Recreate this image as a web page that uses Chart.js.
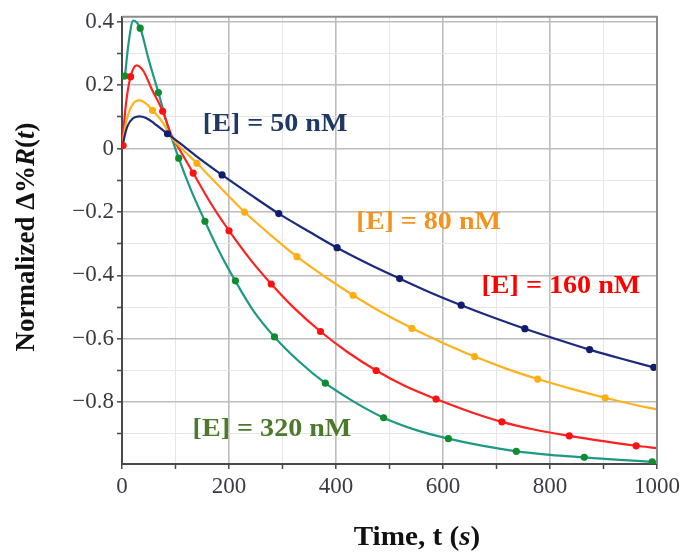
<!DOCTYPE html>
<html>
<head>
<meta charset="utf-8">
<script src="https://cdn.jsdelivr.net/npm/chart.js@4"></script>
<style>
  html, body { margin: 0; padding: 0; background: #fff; }
  #chart { display: block; }
</style>
</head>
<body>
<canvas id="chart" width="684" height="553"></canvas>
<script>
// fitted curves, [t, value]
const fit50 = [[0,0],[5,0.04],[10,0.07],[20,0.095],[32,0.102],[45,0.097],[60,0.08],[85,0.047],[110,0.015],[140,-0.025],[187,-0.083],[240,-0.145],[293,-0.205],[350,-0.262],[402,-0.3125],[460,-0.363],[519,-0.41],[575,-0.453],[634,-0.494],[693,-0.532],[753,-0.568],[814,-0.602],[874,-0.634],[934,-0.663],[1000,-0.693]];
const fit80 = [[0,0],[5,0.06],[10,0.1],[20,0.14],[32,0.152],[45,0.142],[57,0.121],[75,0.085],[93,0.034],[115,-0.005],[140,-0.046],[185,-0.125],[229,-0.2],[280,-0.276],[327,-0.341],[380,-0.405],[432,-0.4625],[487,-0.518],[542,-0.567],[600,-0.613],[659,-0.656],[718,-0.694],[777,-0.727],[840,-0.758],[903,-0.786],[950,-0.805],[1000,-0.823]];
const fit160 = [[0,0.01],[8,0.15],[16,0.227],[27,0.263],[40,0.245],[55,0.19],[76,0.118],[93,0.04],[110,-0.01],[133,-0.077],[165,-0.17],[200,-0.259],[240,-0.35],[279,-0.427],[320,-0.5],[371,-0.577],[420,-0.64],[475,-0.7],[530,-0.75],[587,-0.79],[650,-0.83],[710,-0.862],[770,-0.886],[836,-0.906],[900,-0.923],[961,-0.9375],[1000,-0.945]];
const fit320 = [[5.6,0.229],[12,0.33],[21,0.404],[34,0.38],[50,0.28],[68,0.177],[85,0.075],[106,-0.03],[130,-0.135],[155,-0.229],[182,-0.325],[212,-0.418],[245,-0.51],[285,-0.594],[330,-0.67],[380,-0.74],[430,-0.795],[489,-0.849],[550,-0.888],[610,-0.915],[675,-0.938],[737,-0.955],[800,-0.966],[864,-0.974],[930,-0.982],[991,-0.988],[1000,-0.989]];

// measured points
const pts50 = [[85,0.047],[187,-0.083],[293,-0.205],[402,-0.3125],[519,-0.41],[634,-0.494],[753,-0.568],[874,-0.634],[994,-0.69]];
const pts80 = [[57,0.121],[140,-0.046],[229,-0.2],[327,-0.341],[432,-0.4625],[542,-0.567],[659,-0.656],[777,-0.727],[903,-0.786]];
const pts160 = [[2,0.01],[16,0.227],[76,0.118],[133,-0.077],[200,-0.259],[279,-0.427],[371,-0.577],[475,-0.7],[587,-0.79],[710,-0.862],[836,-0.906],[961,-0.9375]];
const pts320 = [[5.6,0.229],[34,0.38],[68,0.177],[106,-0.03],[155,-0.229],[212,-0.417],[285,-0.594],[380,-0.74],[489,-0.849],[610,-0.915],[737,-0.955],[864,-0.974],[991,-0.988]];

const seriesLabels = ["[E] = 50 nM", "[E] = 80 nM", "[E] = 160 nM", "[E] = 320 nM"];
const xTicks = [0,100,200,300,400,500,600,700,800,900,1000];
const yTicks = [-0.9,-0.8,-0.7,-0.6,-0.5,-0.4,-0.3,-0.2,-0.1,0,0.1,0.2,0.3,0.4];
const xMajor = [0,200,400,600,800,1000];
const yMajor = [-0.8,-0.6,-0.4,-0.2,0,0.2,0.4];

const lineColors = ["#1b2a7e", "#ffb21c", "#ff2222", "#1e9a84"];
const dotColors = ["#101c6c", "#ffae12", "#ff1010", "#0e8c2e"];
const textColors = ["#1f3864", "#f5921e", "#ff0000", "#4b7a2c"];
// where each label starts, in data units [t, value]
const labelAnchors = [[151, 0.077], [438, -0.231], [672, -0.434], [132, -0.887]];

const toXY = arr => arr.map(p => ({ x: p[0], y: p[1] }));
const fits = [fit50, fit80, fit160, fit320];
const pts = [pts50, pts80, pts160, pts320];

const datasets = [];
pts.forEach((p, i) => {
    datasets.push({
        type: "scatter",
        data: toXY(p),
        showLine: false,
        pointRadius: 3.6,
        pointBackgroundColor: dotColors[i],
        pointBorderColor: dotColors[i],
        pointBorderWidth: 0
    });
});
fits.forEach((f, i) => {
    datasets.push({
        type: "line",
        data: toXY(f),
        borderColor: lineColors[i],
        borderWidth: 2.2,
        pointRadius: 0,
        fill: false,
        cubicInterpolationMode: "monotone"
    });
});

function fmtY(v) {
    if (v === 0) return "0";
    return (v < 0 ? "\u2212" : "") + Math.abs(v).toFixed(1);
}

const textPlugin = {
    id: "texts",
    afterDatasetsDraw(chart) {
        const ctx = chart.ctx;
        const xs = chart.scales.x, ys = chart.scales.y;
        const area = chart.chartArea;

        // top and right frame
        ctx.save();
        ctx.strokeStyle = "#8c8c8c";
        ctx.lineWidth = 2;
        ctx.beginPath();
        ctx.moveTo(area.left, area.top);
        ctx.lineTo(area.right, area.top);
        ctx.lineTo(area.right, area.bottom);
        ctx.stroke();
        ctx.restore();

        seriesLabels.forEach((label, i) => {
            const px = xs.getPixelForValue(labelAnchors[i][0]);
            const py = ys.getPixelForValue(labelAnchors[i][1]);
            ctx.save();
            ctx.translate(px, py);
            ctx.scale(1.08, 1);
            ctx.font = "bold 26px 'Liberation Serif'";
            ctx.fillStyle = textColors[i];
            ctx.textBaseline = "middle";
            ctx.textAlign = "left";
            ctx.fillText(label, 0, 0);
            ctx.restore();
        });
    },
    afterDraw(chart) {
        const ctx = chart.ctx;
        const b = "bold 27px 'Liberation Serif'";
        const bi = "italic bold 27px 'Liberation Serif'";
        const drawRich = (segs, cx, cy) => {
            let total = 0;
            segs.forEach(s => { ctx.font = s[1]; total += ctx.measureText(s[0]).width; });
            let x = cx - total / 2;
            segs.forEach(s => {
                ctx.font = s[1];
                ctx.fillText(s[0], x, cy);
                x += ctx.measureText(s[0]).width;
            });
        };
        ctx.save();
        ctx.fillStyle = "#111";
        ctx.textBaseline = "middle";
        ctx.textAlign = "left";
        ctx.translate(27, 237);
        ctx.rotate(-Math.PI / 2);
        drawRich([["Normalized \u0394%", b], ["R", bi], ["(", b], ["t", bi], [")", b]], 0, 0);
        ctx.restore();

        ctx.save();
        ctx.fillStyle = "#111";
        ctx.textBaseline = "middle";
        ctx.textAlign = "left";
        ctx.translate(417, 538);
        ctx.scale(1.08, 1);
        drawRich([["Time, t (", b], ["s", bi], [")", b]], 0, 0);
        ctx.restore();
    }
};

new Chart(document.getElementById("chart"), {
    type: "line",
    data: { datasets: datasets },
    options: {
        responsive: false,
        animation: false,
        devicePixelRatio: 1,
        layout: { padding: { left: 0, right: 26, top: 13, bottom: 0 } },
        plugins: { legend: { display: false }, tooltip: { enabled: false } },
        scales: {
            x: {
                type: "linear",
                min: 0,
                max: 1000,
                afterBuildTicks: s => { s.ticks = xTicks.map(v => ({ value: v })); },
                afterFit: s => { s.height = 89; },
                border: { color: "#4a4a4a", width: 2 },
                grid: {
                    color: c => xMajor.includes(c.tick.value) ? "#bdbdbd" : "#e6e6e6",
                    lineWidth: c => xMajor.includes(c.tick.value) ? 1.6 : 1,
                    tickColor: "#4a4a4a",
                    tickLength: 5,
                    tickWidth: 1.5
                },
                ticks: {
                    autoSkip: false,
                    maxRotation: 0,
                    padding: 4,
                    color: "#3a3a44",
                    font: { family: "'Liberation Serif'", size: 23 },
                    callback: v => xMajor.includes(v) ? String(v) : ""
                }
            },
            y: {
                type: "linear",
                min: -0.995,
                max: 0.416,
                afterBuildTicks: s => { s.ticks = yTicks.map(v => ({ value: v })); },
                afterFit: s => { s.width = 122; },
                border: { color: "#4a4a4a", width: 2 },
                grid: {
                    color: c => yMajor.includes(c.tick.value) ? "#bdbdbd" : "#e6e6e6",
                    lineWidth: c => yMajor.includes(c.tick.value) ? 1.6 : 1,
                    tickColor: "#4a4a4a",
                    tickLength: 5,
                    tickWidth: 1.5
                },
                ticks: {
                    autoSkip: false,
                    padding: 3,
                    color: "#3a3a44",
                    font: { family: "'Liberation Serif'", size: 23 },
                    callback: v => yMajor.includes(v) ? fmtY(v) : ""
                }
            }
        }
    },
    plugins: [textPlugin]
});
</script>
</body>
</html>
